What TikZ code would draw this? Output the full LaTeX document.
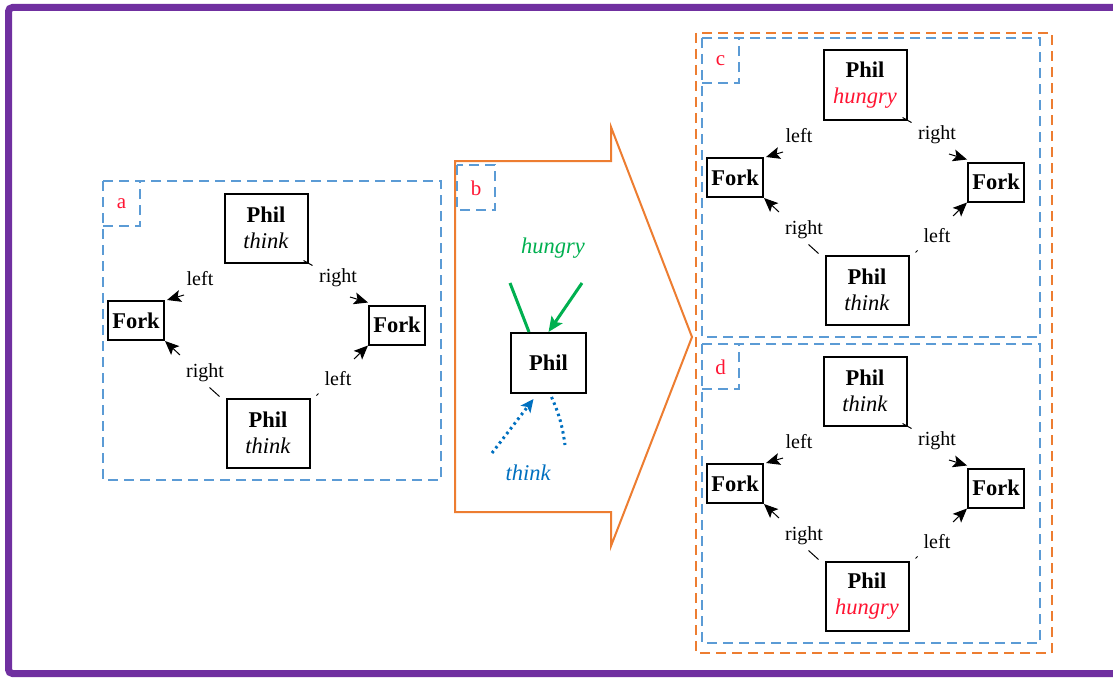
\documentclass[tikz,border=0pt]{standalone}
\usepackage{fontspec}
\setmainfont{Liberation Serif}
\usetikzlibrary{arrows.meta,calc}
\definecolor{purp}{RGB}{112,48,160}
\definecolor{dblue}{RGB}{91,155,213}
\definecolor{dorange}{RGB}{237,125,49}
\definecolor{grn}{RGB}{0,176,80}
\definecolor{tblue}{RGB}{0,112,192}
\definecolor{hred}{RGB}{255,20,50}
\tikzset{
 bluedash/.style={draw=dblue, line width=2.2pt, dash pattern=on 10pt off 6pt},
 orangedash/.style={draw=dorange, line width=2.2pt, dash pattern=on 10pt off 6pt},
 philbox/.style={draw=black, line width=2pt, minimum width=83pt, minimum height=69pt, align=center, inner sep=0pt, font=\fontsize{22.5}{26}\selectfont},
 forkbox/.style={draw=black, line width=2pt, minimum width=56pt, minimum height=39pt, inner sep=0pt, font=\fontsize{22.5}{24}\selectfont\bfseries},
 lbl/.style={font=\fontsize{20}{22}\selectfont, inner sep=0pt},
 letter/.style={text=hred, font=\fontsize{21}{22}\selectfont, inner sep=0pt},
 forkarrow/.style={line width=1pt, -{Stealth[length=14pt,width=12pt,inset=3pt]}},
 stub/.style={line width=1pt},
 greenline/.style={draw=grn, line width=3pt},
 bluedot/.style={draw=tblue, line width=3pt, dash pattern=on 2.5pt off 3.5pt},
}
\newcommand\stThink{\textit{think}}
\newcommand\stHungry{\textcolor{hred}{\textit{hungry}}}
\newcommand\dinerpanel[5]{%
 \begin{scope}[shift={(#1,#2)}]
  \draw[bluedash] (0,0) rectangle (338,299);
  \draw[bluedash] (0,45) -| (37,0);
  \node[letter] (#3-lab) at (18.5,23) {#3};
  \node[philbox] (#3-pt) at (163,47) {\textbf{Phil}\\#4};
  \node[forkbox] (#3-fl) at (33,139.5) {Fork};
  \node[forkbox] (#3-fr) at (294,144) {Fork};
  \node[philbox] (#3-pb) at (165,252) {\textbf{Phil}\\#5};
  \node[lbl] (#3-l1) at (97,98) {left};
  \node[lbl] (#3-r1) at (235,97) {right};
  \node[lbl] (#3-r2) at (102,192) {right};
  \node[lbl] (#3-l2) at (235,198) {left};
  \coordinate (#3-a1) at (81,114);
  \coordinate (#3-a2) at (77,174);
  \coordinate (#3-a3) at (247,116);
  \coordinate (#3-a4) at (251,178);
  \draw[forkarrow] (#3-a1) -- ($(#3-fl.north east)+(2,0)$);
  \draw[forkarrow] (#3-a2) -- (#3-fl.south east);
  \draw[forkarrow] (#3-a3) -- ($(#3-fr.north west)+(0,-2)$);
  \draw[forkarrow] (#3-a4) -- (#3-fr.south west);
  \draw[stub] ($(#3-pt.south east)+(-5,-3)$) -- ++(9,5);
  \draw[stub] ($(#3-pb.north west)+(-6,-1)$) -- ++(-10,-9);
  \draw[stub] ($(#3-pb.north east)+(6,-2)$) -- ++(2,-2);
 \end{scope}}
\begin{document}
\begin{tikzpicture}[x=1pt,y=-1pt]
\useasboundingbox (0,0) rectangle (1113,677);
\fill[white] (0,0) rectangle (1113,677);
% purple frame
\draw[purp, line width=7pt, rounded corners=4pt] (1113,7.5) -- (8.5,7.5) -- (8.5,673.5) -- (1113,673.5);
% panel a
\dinerpanel{103}{181}{a}{\stThink}{\stThink}
% panel b
\draw[dorange, line width=2pt, line join=miter] (455,161) -- (611,161) -- (611,127) -- (692,337) -- (611,546) -- (611,512) -- (455,512) -- cycle;
\draw[bluedash] (457,165) rectangle (495,210);
\node[letter] (b-lab) at (476,188) {b};
\node[draw=black, line width=2pt, minimum width=75pt, minimum height=60pt, inner sep=0pt, font=\fontsize{22.5}{24}\selectfont\bfseries] (b-ph) at (548.5,363) {Phil};
\node[text=grn, font=\fontsize{22.5}{24}\selectfont\itshape, inner sep=0pt] (b-hg) at (553,248) {hungry};
\node[text=tblue, font=\fontsize{22.5}{24}\selectfont\itshape, inner sep=0pt] (b-th) at (528,473) {think};
\coordinate (g1) at (510,283);
\coordinate (g2) at (582,283);
\draw[greenline] (g1) -- ($(b-ph.north west)+(19,0)$);
\draw[greenline, -{Stealth[length=15pt,width=13pt,inset=3pt]}] (g2) -- (b-ph.north);
\coordinate (t1) at (492,453);
\coordinate (t2) at (565,445);
\draw[bluedot, -{Stealth[length=13pt,width=12pt,inset=3pt]}] (t1) -- ($(b-ph.south)+(-15,5)$);
\draw[bluedot] ($(b-ph.south)+(3,3)$) to[bend left=8] (t2);
% right side
\draw[orangedash] (696,33) rectangle (1052,653);
\dinerpanel{702}{38}{c}{\stHungry}{\stThink}
\dinerpanel{702}{344}{d}{\stThink}{\stHungry}
\end{tikzpicture}
\end{document}
